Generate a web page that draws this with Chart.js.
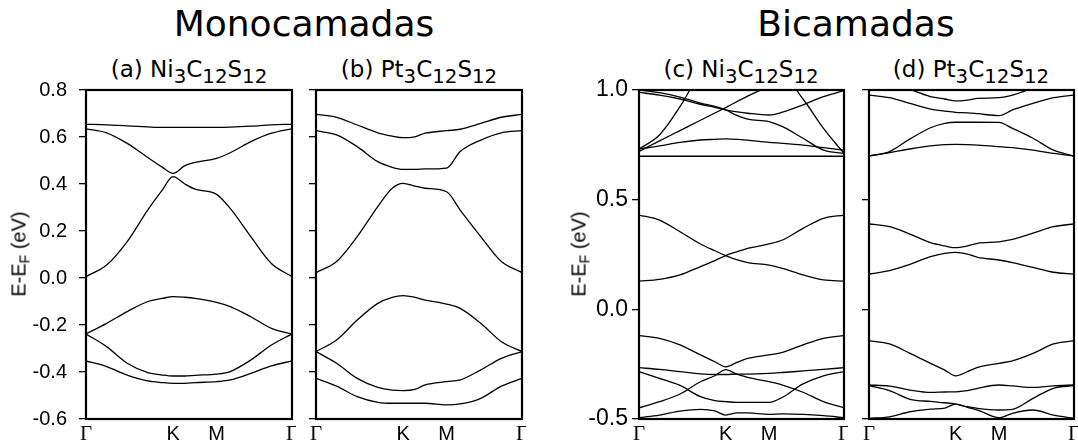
<!DOCTYPE html>
<html>
<head>
<meta charset="utf-8">
<script src="https://cdn.jsdelivr.net/npm/chart.js@4.4.1/dist/chart.umd.min.js"></script>
<style>
  body { margin: 0; width: 1078px; height: 445px; background: #fff; position: relative; overflow: hidden; font-family: "DejaVu Sans", sans-serif; color: #000; }
  .box { position: absolute; top: 70px; height: 375px; }
  .head { position: absolute; top: 6px; font-size: 36px; line-height: 36px; transform: translateX(-50%); white-space: nowrap; }
  .ptitle { position: absolute; top: 58px; font-size: 23px; line-height: 23px; transform: translateX(-50%); white-space: nowrap; }
  .ptitle sub { font-size: 0.86em; vertical-align: -0.3em; line-height: 0; }
  .ytitle { position: absolute; top: 254px; font-family: "Liberation Sans", sans-serif; font-size: 20px; transform: translate(-50%, -50%) rotate(-90deg); white-space: nowrap; }
  .ytitle sub { font-size: 0.7em; vertical-align: -0.25em; line-height: 0; }
</style>
</head>
<body>
<div class="head" style="left:304px">Monocamadas</div>
<div class="head" style="left:856px">Bicamadas</div>
<div class="ptitle" style="left:189px">(a) Ni<sub>3</sub>C<sub>12</sub>S<sub>12</sub></div>
<div class="ptitle" style="left:419px">(b) Pt<sub>3</sub>C<sub>12</sub>S<sub>12</sub></div>
<div class="ptitle" style="left:741px">(c) Ni<sub>3</sub>C<sub>12</sub>S<sub>12</sub></div>
<div class="ptitle" style="left:971px">(d) Pt<sub>3</sub>C<sub>12</sub>S<sub>12</sub></div>

<div class="box" style="left:0px;width:296px"><canvas id="pa"></canvas></div>
<div class="box" style="left:300px;width:226px"><canvas id="pb"></canvas></div>
<div class="box" style="left:560px;width:288px"><canvas id="pc"></canvas></div>
<div class="box" style="left:852px;width:226px"><canvas id="pd"></canvas></div>

<div class="ytitle" style="left:19px">E-E<sub>F</sub> (eV)</div>
<div class="ytitle" style="left:579px">E-E<sub>F</sub> (eV)</div>

<script>
// k-path positions (fraction of Γ-K-M-Γ) where bands were read
const kPath = [0, 0.1, 0.2, 0.3, 0.37, 0.4226, 0.48, 0.53, 0.634, 0.7, 0.8, 0.9, 1];
const kTicks = [0, 0.4226, 0.634, 1];
const kLabels = ['Γ', 'K', 'M', 'Γ'];

// (a) Ni3C12S12 monolayer
const niMonoBands = [
    [0.654, 0.652, 0.647, 0.643, 0.641, 0.641, 0.641, 0.641, 0.641, 0.642, 0.646, 0.652, 0.654],
    [0.635, 0.618, 0.573, 0.513, 0.472, 0.445, 0.478, 0.492, 0.509, 0.533, 0.580, 0.616, 0.635],
    [0.006, 0.055, 0.155, 0.290, 0.374, 0.431, 0.400, 0.378, 0.356, 0.296, 0.176, 0.062, 0.006],
    [-0.238, -0.193, -0.143, -0.100, -0.087, -0.079, -0.082, -0.087, -0.104, -0.122, -0.165, -0.214, -0.238],
    [-0.238, -0.292, -0.363, -0.403, -0.413, -0.417, -0.417, -0.414, -0.409, -0.398, -0.349, -0.285, -0.238],
    [-0.353, -0.377, -0.413, -0.438, -0.445, -0.448, -0.448, -0.445, -0.441, -0.434, -0.406, -0.374, -0.353]
];

// (b) Pt3C12S12 monolayer
const ptMonoBands = [
    [0.696, 0.684, 0.651, 0.618, 0.604, 0.597, 0.601, 0.616, 0.627, 0.633, 0.658, 0.684, 0.696],
    [0.627, 0.609, 0.559, 0.495, 0.471, 0.462, 0.462, 0.464, 0.468, 0.538, 0.587, 0.618, 0.627],
    [0.023, 0.070, 0.176, 0.304, 0.382, 0.403, 0.391, 0.382, 0.367, 0.289, 0.176, 0.070, 0.023],
    [-0.313, -0.264, -0.179, -0.108, -0.082, -0.075, -0.082, -0.094, -0.111, -0.129, -0.193, -0.271, -0.313],
    [-0.313, -0.363, -0.427, -0.465, -0.477, -0.479, -0.474, -0.455, -0.441, -0.434, -0.391, -0.342, -0.313],
    [-0.427, -0.460, -0.505, -0.529, -0.533, -0.533, -0.533, -0.533, -0.540, -0.536, -0.512, -0.460, -0.427]
];

// (c) Ni3C12S12 bilayer
const niBiBands = [
    [0.698, 0.698, 0.698, 0.698, 0.698, 0.698, 0.698, 0.698, 0.698, 0.698, 0.698, 0.698, 0.698],
    [0.731, 0.745, 0.761, 0.772, 0.775, 0.777, 0.775, 0.771, 0.761, 0.757, 0.749, 0.737, 0.726],
    [0.731, 0.795, 0.924, 1.080, 1.150, 1.180, 1.200, 1.200, 1.200, 1.200, 1.200, 1.200, 1.200],
    [0.720, 0.768, 0.815, 0.862, 0.895, 0.920, 0.948, 0.972, 1.020, 1.060, 0.959, 0.825, 0.711],
    [0.989, 0.977, 0.959, 0.935, 0.921, 0.909, 0.900, 0.894, 0.886, 0.899, 0.932, 0.970, 0.997],
    [1.000, 0.988, 0.968, 0.940, 0.925, 0.909, 0.883, 0.867, 0.856, 0.833, 0.780, 0.726, 0.711],
    [0.430, 0.407, 0.354, 0.298, 0.267, 0.245, 0.225, 0.213, 0.202, 0.187, 0.157, 0.134, 0.129],
    [0.129, 0.137, 0.157, 0.195, 0.222, 0.245, 0.263, 0.278, 0.298, 0.316, 0.369, 0.415, 0.430],
    [-0.120, -0.132, -0.162, -0.208, -0.239, -0.262, -0.241, -0.224, -0.208, -0.196, -0.162, -0.132, -0.120],
    [-0.266, -0.274, -0.284, -0.294, -0.297, -0.297, -0.295, -0.295, -0.292, -0.288, -0.281, -0.274, -0.266],
    [-0.284, -0.315, -0.347, -0.398, -0.416, -0.421, -0.424, -0.424, -0.424, -0.401, -0.340, -0.303, -0.284],
    [-0.449, -0.421, -0.386, -0.330, -0.303, -0.275, -0.297, -0.310, -0.330, -0.345, -0.378, -0.421, -0.449],
    [-0.494, -0.482, -0.464, -0.456, -0.463, -0.482, -0.472, -0.472, -0.479, -0.477, -0.479, -0.485, -0.494]
];

// (d) Pt3C12S12 bilayer
const ptBiBands = [
    [1.080, 1.040, 1.003, 0.970, 0.959, 0.950, 0.954, 0.962, 0.965, 0.977, 1.010, 1.050, 1.080],
    [0.977, 0.965, 0.939, 0.913, 0.904, 0.898, 0.896, 0.892, 0.883, 0.909, 0.939, 0.965, 0.977],
    [0.699, 0.719, 0.777, 0.828, 0.848, 0.853, 0.853, 0.853, 0.852, 0.825, 0.780, 0.726, 0.699],
    [0.699, 0.714, 0.731, 0.745, 0.751, 0.752, 0.751, 0.749, 0.742, 0.737, 0.726, 0.711, 0.699],
    [0.389, 0.377, 0.343, 0.304, 0.289, 0.281, 0.289, 0.301, 0.308, 0.319, 0.347, 0.377, 0.389],
    [0.161, 0.176, 0.205, 0.240, 0.255, 0.260, 0.252, 0.237, 0.225, 0.213, 0.191, 0.169, 0.161],
    [-0.143, -0.158, -0.201, -0.246, -0.277, -0.303, -0.284, -0.265, -0.246, -0.235, -0.201, -0.158, -0.143],
    [-0.345, -0.350, -0.368, -0.379, -0.377, -0.376, -0.371, -0.360, -0.345, -0.349, -0.356, -0.349, -0.345],
    [-0.348, -0.371, -0.410, -0.420, -0.426, -0.432, -0.444, -0.452, -0.459, -0.456, -0.406, -0.360, -0.348],
    [-0.497, -0.490, -0.467, -0.455, -0.450, -0.432, -0.447, -0.459, -0.494, -0.474, -0.459, -0.482, -0.497]
];

// box around each plot area
const frame = {
    id: 'frame',
    afterDatasetsDraw(chart) {
        const { ctx, chartArea: a } = chart;
        ctx.save();
        ctx.strokeStyle = '#000';
        ctx.lineWidth = 2.2;
        ctx.strokeRect(a.left, a.top, a.right - a.left, a.bottom - a.top);
        ctx.restore();
    }
};

function fmt(v) {
    return Math.abs(v) < 1e-9 ? '0.0' : v.toFixed(1);
}

function bandChart(id, bands, yMin, yMax, yStep, axisW, showLabels, pad, fontSize) {
    return new Chart(document.getElementById(id), {
        type: 'line',
        data: {
            datasets: bands.map(b => ({
                data: kPath.map((k, i) => ({ x: k, y: b[i] })),
                borderColor: '#000',
                borderWidth: 1.3,
                pointRadius: 0,
                fill: false,
                cubicInterpolationMode: 'monotone'
            }))
        },
        options: {
            responsive: true,
            maintainAspectRatio: false,
            animation: false,
            events: [],
            layout: { padding: { top: 20, right: 4, bottom: 2, left: 0 } },
            plugins: { legend: { display: false }, tooltip: { enabled: false } },
            scales: {
                x: {
                    type: 'linear', min: 0, max: 1,
                    grid: { display: false, drawTicks: false },
                    border: { display: false },
                    afterBuildTicks: s => { s.ticks = kTicks.map(v => ({ value: v })); },
                    afterFit: s => { s.height = 24; s.paddingLeft = 0; s.paddingRight = 0; },
                    ticks: {
                        autoSkip: false, maxRotation: 0, minRotation: 0, padding: 3, color: '#000',
                        callback: (v, i) => kLabels[i],
                        font: c => ({
                            family: kLabels[c.index] === 'Γ' ? 'Liberation Serif' : 'Liberation Sans',
                            size: kLabels[c.index] === 'Γ' ? 21 : 20
                        })
                    }
                },
                y: {
                    min: yMin, max: yMax,
                    grid: { display: true, drawOnChartArea: false, drawTicks: true, tickLength: 7, color: '#000', lineWidth: 1.3 },
                    border: { display: false },
                    afterFit: s => { s.width = axisW; s.paddingTop = 0; s.paddingBottom = 0; },
                    ticks: {
                        stepSize: yStep, padding: pad, color: '#000',
                        font: { family: 'Liberation Sans', size: fontSize },
                        callback: v => showLabels ? fmt(v) : ''
                    }
                }
            }
        },
        plugins: [frame]
    });
}

bandChart('pa', niMonoBands, -0.6, 0.8, 0.2, 86, true, 12, 20);
bandChart('pb', ptMonoBands, -0.6, 0.8, 0.2, 16, false, 4, 20);
bandChart('pc', niBiBands, -0.5, 1.0, 0.5, 79, true, 4, 23);
bandChart('pd', ptBiBands, -0.5, 1.0, 0.5, 17, false, 4, 23);
</script>
</body>
</html>
